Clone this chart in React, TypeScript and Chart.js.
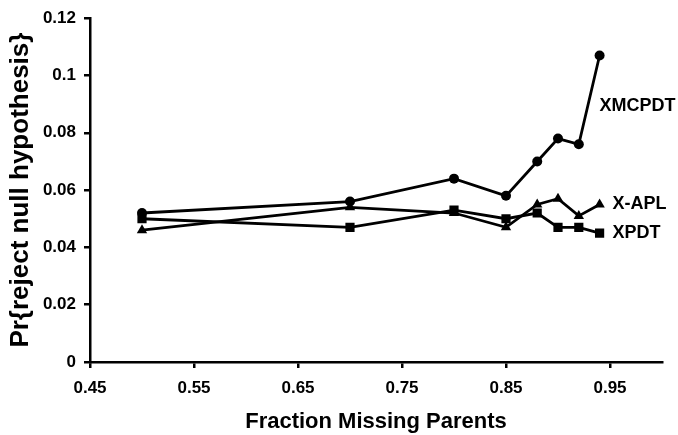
import React, { useEffect, useRef } from "react";
import { Chart, registerables } from "chart.js";

Chart.register(...registerables);

const fractions = [0.5, 0.7, 0.8, 0.85, 0.88, 0.9, 0.92, 0.94];
const xmcpdt = [0.052, 0.056, 0.064, 0.058, 0.070, 0.078, 0.076, 0.107];
const xapl = [0.046, 0.054, 0.052, 0.047, 0.055, 0.057, 0.051, 0.055];
const xpdt = [0.050, 0.047, 0.053, 0.050, 0.052, 0.047, 0.047, 0.045];
const xTicks = [0.45, 0.55, 0.65, 0.75, 0.85, 0.95];
const yTicks = [0, 0.02, 0.04, 0.06, 0.08, 0.1, 0.12];
const seriesNames = ["XMCPDT", "X-APL", "XPDT"];
const xTitle = "Fraction Missing Parents";
const yTitle = "Pr{reject null hypothesis}";

const FONT = "'Liberation Sans', Arial, sans-serif";

const labelPlugin = {
  id: "seriesLabels",
  afterDatasetsDraw(chart: any) {
    const ctx = chart.ctx;
    const xs = chart.scales.x;
    const ys = chart.scales.y;
    ctx.save();
    ctx.font = `bold 18px ${FONT}`;
    ctx.fillStyle = "#000";
    ctx.textBaseline = "middle";
    ctx.textAlign = "left";
    const last = fractions.length - 1;
    const lx = xs.getPixelForValue(fractions[last]);
    ctx.fillText(seriesNames[0], lx, ys.getPixelForValue(0.0893));
    ctx.fillText(seriesNames[1], lx + 13, ys.getPixelForValue(xapl[last]));
    ctx.fillText(seriesNames[2], lx + 13, ys.getPixelForValue(xpdt[last]));
    ctx.restore();
  },
};

export default function App() {
  const ref = useRef<HTMLCanvasElement>(null);
  useEffect(() => {
    document.body.style.margin = "0";
    const mk = (arr: number[]) => fractions.map((x, i) => ({ x, y: arr[i] }));
    const common = {
      borderColor: "#000",
      backgroundColor: "#000",
      borderWidth: 2.8,
      pointBorderWidth: 0,
      fill: false,
      tension: 0,
    };
    const chart = new Chart(ref.current!, {
      type: "line",
      data: {
        datasets: [
          { ...common, label: seriesNames[0], data: mk(xmcpdt), pointStyle: "circle", pointRadius: 5 },
          { ...common, label: seriesNames[1], data: mk(xapl), pointStyle: "triangle", pointRadius: 6 },
          { ...common, label: seriesNames[2], data: mk(xpdt), pointStyle: "rect", pointRadius: 6.5 },
        ],
      },
      options: {
        animation: false,
        responsive: true,
        maintainAspectRatio: false,
        layout: { padding: { left: 0, top: 18, right: 16, bottom: 0 } },
        plugins: { legend: { display: false }, tooltip: { enabled: false } },
        scales: {
          x: {
            type: "linear",
            min: 0.45,
            max: 1.0,
            afterBuildTicks: (s: any) => {
              s.ticks = xTicks.map((v) => ({ value: v }));
            },
            afterFit: (s: any) => {
              s.height = 73;
            },
            ticks: {
              color: "#000",
              font: { family: FONT, size: 17, weight: "bold" },
              padding: 10,
              callback: (v: any) => String(v),
              maxRotation: 0,
            },
            grid: { display: true, drawOnChartArea: false, drawTicks: true, tickLength: 6, color: "#000", lineWidth: 2.5 },
            border: { display: true, color: "#000", width: 2.5 },
            title: {
              display: true,
              text: xTitle,
              color: "#000",
              font: { family: FONT, size: 22, weight: "bold" },
              padding: { top: 0, bottom: 0 },
            },
          },
          y: {
            type: "linear",
            min: 0,
            max: 0.12,
            afterBuildTicks: (s: any) => {
              s.ticks = yTicks.map((v) => ({ value: v }));
            },
            afterFit: (s: any) => {
              s.width = 90;
            },
            ticks: {
              color: "#000",
              font: { family: FONT, size: 17, weight: "bold" },
              padding: 8,
              callback: (v: any) => String(v),
            },
            grid: { display: true, drawOnChartArea: false, drawTicks: true, tickLength: 6, color: "#000", lineWidth: 2.5 },
            border: { display: true, color: "#000", width: 2.5 },
            title: {
              display: true,
              text: yTitle,
              color: "#000",
              font: { family: FONT, size: 26, weight: "bold" },
              padding: { top: 5, bottom: 0 },
            },
          },
        },
      },
      plugins: [labelPlugin],
    } as any);
    return () => chart.destroy();
  }, []);
  return (
    <div style={{ position: "absolute", left: 0, top: 0, width: 678, height: 435 }}>
      <canvas ref={ref} />
    </div>
  );
}
